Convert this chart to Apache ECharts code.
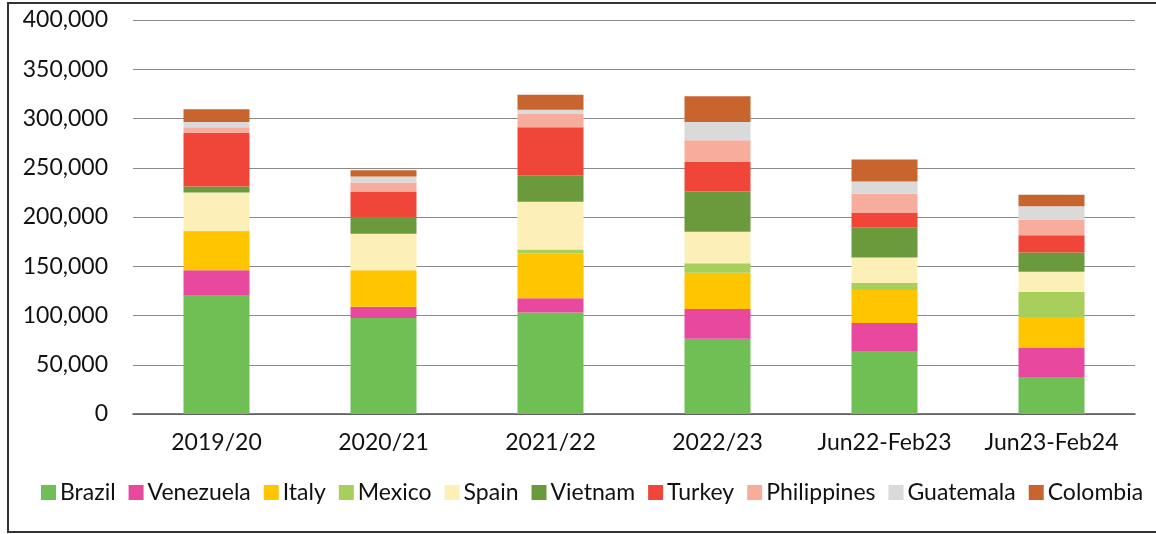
<!DOCTYPE html>
<html><head><meta charset="utf-8">
<script src="https://cdn.jsdelivr.net/npm/echarts@6/dist/echarts.min.js"></script>
<style>html,body{margin:0;padding:0;background:#fff}#c{width:1156px;height:534px}</style>
</head><body><div id="c"></div>
<script>
const categories = ['2019/20','2020/21','2021/22','2022/23','Jun22-Feb23','Jun23-Feb24'];
const yTicks = [0,50000,100000,150000,200000,250000,300000,350000,400000];
const brazil      = [120000, 97500, 103000, 76500, 64000, 37500];
const venezuela   = [26000, 11500, 14500, 30000, 28500, 30000];
const italy       = [39500, 37000, 45500, 37000, 33500, 31000];
const mexico      = [500, 0, 4000, 9500, 7000, 25500];
const spain       = [39000, 37000, 48500, 32000, 26000, 20500];
const vietnam     = [6000, 17000, 27000, 41000, 30500, 19500];
const turkey      = [54500, 26000, 48500, 30000, 15000, 17500];
const philippines = [5500, 9000, 14000, 22000, 19000, 16000];
const guatemala   = [5500, 6000, 4000, 18500, 12500, 13500];
const colombia    = [13000, 6500, 15000, 26000, 22500, 11500];

const seriesDefs = [
  ['Brazil', brazil, '#70bf55'],
  ['Venezuela', venezuela, '#e8489e'],
  ['Italy', italy, '#ffc600'],
  ['Mexico', mexico, '#a8cf5c'],
  ['Spain', spain, '#fdefb8'],
  ['Vietnam', vietnam, '#6b9a3c'],
  ['Turkey', turkey, '#f0463a'],
  ['Philippines', philippines, '#f8ad9c'],
  ['Guatemala', guatemala, '#dadada'],
  ['Colombia', colombia, '#c8652f']
];
const FONT = 'Lato';
const chart = echarts.init(document.getElementById('c'), null, {renderer:'canvas'});
chart.setOption({
  animation:false,
  backgroundColor:'#fff',
  grid:{left:133, right:21, top:20, bottom:120},
  legend:{
    bottom:25, left:36, itemWidth:15, itemHeight:15, itemGap:13,
    icon:'rect',
    textStyle:{fontFamily:FONT, fontSize:23, color:'#111', padding:[0,0,0,-1]},
    data: seriesDefs.map(s=>s[0])
  },
  xAxis:[{
    type:'category', data:categories,
    axisLine:{lineStyle:{color:'#555', width:1.5}},
    axisTick:{length:6, lineStyle:{color:'#555', width:1.5}},
    axisLabel:{fontFamily:FONT, fontSize:23, color:'#111', margin:17, interval:0}
  },{
    type:'category', data:categories, position:'bottom',
    axisLine:{show:false},
    axisTick:{inside:true, length:7, lineStyle:{color:'#555', width:1.5}},
    axisLabel:{show:false}
  }],
  yAxis:{
    type:'value', min:yTicks[0], max:yTicks[yTicks.length-1], interval:50000,
    axisLine:{show:false}, axisTick:{show:false},
    splitLine:{lineStyle:{color:'#8a8a8a', width:1}},
    axisLabel:{fontFamily:FONT, fontSize:23, color:'#111', margin:25,
      formatter:v=>v.toLocaleString('en-US')}
  },
  series: seriesDefs.map(s=>({
    name:s[0], type:'bar', stack:'total', data:s[1], barWidth:66,
    itemStyle:{color:s[2]}
  })),
  graphic:[{
    type:'rect', silent:true, z:100,
    shape:{x:8, y:3, width:1160, height:529},
    style:{fill:'none', stroke:'#333', lineWidth:2}
  }]
});
</script></body></html>
